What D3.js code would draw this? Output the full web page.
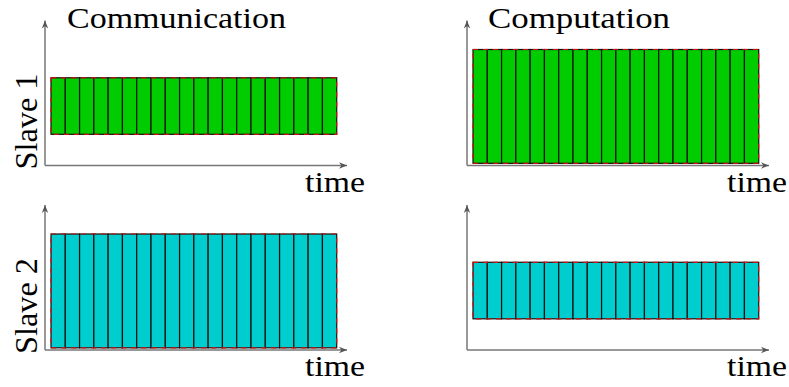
<!DOCTYPE html>
<html>
<head>
<meta charset="utf-8">
<script src="https://cdn.jsdelivr.net/npm/d3@7"></script>
<style>
  body { margin: 0; background: #fff; }
</style>
</head>
<body>
<div id="chart"></div>
<script>
// chart data
const columns = ["Communication", "Computation"];
const rows = ["Slave 1", "Slave 2"];
const blockStarts = [0, 1, 2, 3, 4, 5, 6, 7, 8, 9, 10, 11, 12, 13, 14, 15, 16, 17, 18, 19];
// per row: [communication, computation] band low / high (arbitrary units, 0..10)
const bandLow = [[2.15, 0.15], [0.15, 2.15]];
const bandHigh = [[6.05, 8.0], [8.0, 6.05]];
const rowColors = ["#00cc00", "#00cdcd"];
const axisLabel = "time";

const W = 789, H = 387;
const FONT = "'Liberation Serif', 'Times New Roman', Times, 'DejaVu Serif', serif";
const svg = d3.select("#chart").append("svg")
    .attr("width", W).attr("height", H);

svg.append("defs").append("marker")
    .attr("id", "arrow")
    .attr("viewBox", "0 0 10 10")
    .attr("refX", 10).attr("refY", 5)
    .attr("markerWidth", 10).attr("markerHeight", 8)
    .attr("markerUnits", "userSpaceOnUse")
    .attr("orient", "auto")
  .append("path")
    .attr("d", "M0,1 L10,5 L0,9 L3,5 Z")
    .attr("fill", "#555");

const originX = [45, 467];
const originY = [165.5, 350];
const axisW = 302, axisH = 145;

rows.forEach((row, r) => {
  columns.forEach((col, c) => {
    const ox = originX[c], oy = originY[r];
    const x = d3.scaleLinear().domain([-0.42, 20.72]).range([ox, ox + axisW]);
    const y = d3.scaleLinear().domain([0, 10]).range([oy, oy - axisH]);
    const g = svg.append("g");

    // axes
    g.append("line")
      .attr("x1", x(x.domain()[0])).attr("x2", x(x.domain()[1]))
      .attr("y1", y(0)).attr("y2", y(0))
      .attr("stroke", "#777").attr("stroke-width", 1.5)
      .attr("marker-end", "url(#arrow)");
    g.append("line")
      .attr("x1", x(x.domain()[0])).attr("x2", x(x.domain()[0]))
      .attr("y1", y(0)).attr("y2", y(10))
      .attr("stroke", "#777").attr("stroke-width", 1.5)
      .attr("marker-end", "url(#arrow)");

    const lo = bandLow[r][c], hi = bandHigh[r][c];

    // blocks
    g.selectAll("rect.block")
      .data(blockStarts)
      .enter()
      .append("rect")
        .attr("class", "block")
        .attr("x", d => x(d))
        .attr("y", y(hi))
        .attr("width", d => x(d + 1) - x(d))
        .attr("height", y(lo) - y(hi))
        .attr("fill", rowColors[r])
        .attr("stroke", "#111")
        .attr("stroke-width", 1.2);

    // red dashed outline
    const first = blockStarts[0], last = blockStarts[blockStarts.length - 1] + 1;
    g.append("rect")
      .attr("x", x(first)).attr("y", y(hi))
      .attr("width", x(last) - x(first))
      .attr("height", y(lo) - y(hi))
      .attr("fill", "none")
      .attr("stroke", "#d01010")
      .attr("stroke-width", 1.2)
      .style("stroke-dasharray", "5,5");

    // "time" label
    g.append("text")
      .attr("x", x(x.domain()[1]) - 42)
      .attr("y", oy + 26)
      .attr("font-family", FONT)
      .attr("font-size", 30)
      .attr("textLength", 60)
      .attr("lengthAdjust", "spacingAndGlyphs")
      .text(axisLabel);
  });

  // row label
  svg.append("text")
    .attr("transform", `translate(37,${originY[r] - 44}) rotate(-90)`)
    .attr("text-anchor", "middle")
    .attr("font-family", FONT)
    .attr("font-size", 32)
    .attr("textLength", 96)
    .attr("lengthAdjust", "spacingAndGlyphs")
    .text(row);
});

// column titles
const titleX = [67, 488], titleLen = [219, 182];
columns.forEach((col, c) => {
  svg.append("text")
    .attr("x", titleX[c]).attr("y", 28)
    .attr("font-family", FONT)
    .attr("font-size", 30)
    .attr("textLength", titleLen[c])
    .attr("lengthAdjust", "spacingAndGlyphs")
    .text(col);
});
</script>
</body>
</html>
